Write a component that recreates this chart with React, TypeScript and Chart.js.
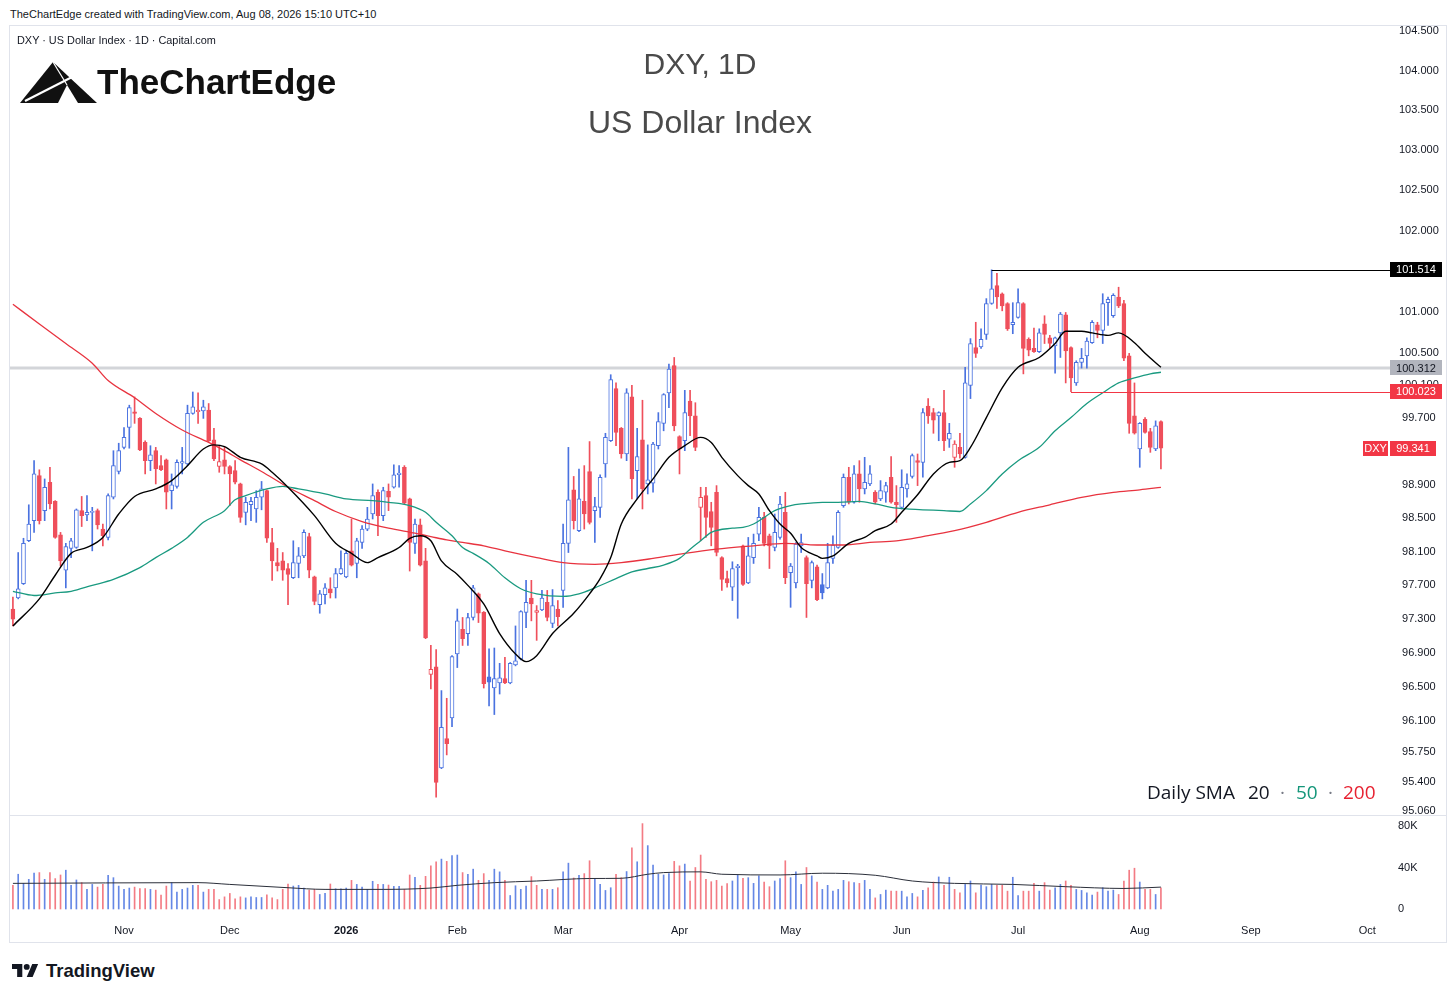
import React, { useEffect, useRef } from "react";
import { Chart, registerables } from "chart.js";

Chart.register(...registerables);

const FONT = "'Liberation Sans', Arial, Helvetica, sans-serif";
const TEXT = "#131722";
const UP = "#4a72e0";
const DOWN = "#ef4f5b";
const UP_VOL = "rgba(74,114,224,0.85)";
const DOWN_VOL = "rgba(239,79,91,0.75)";

// ---- daily candles (bar index 0 = 3 Oct 2025 ... 217 = 7 Aug 2026) ----
const OPEN = [
  97.42, 97.55, 97.72, 98.23, 98.47, 99.01, 98.59, 98.93, 98.70, 98.30,
  97.88, 98.14, 98.15, 98.59, 98.54, 98.57, 98.59, 98.37, 98.27, 98.75,
  99.06, 99.35, 99.59, 99.78, 99.70, 99.41, 99.19, 99.31, 99.13, 99.20,
  98.83, 98.88, 99.16, 99.15, 99.76, 99.78, 99.79, 99.80, 99.44, 99.12,
  99.20, 99.12, 99.07, 98.91, 98.57, 98.66, 98.61, 98.75, 98.83, 98.21,
  97.97, 97.99, 97.90, 97.79, 97.96, 98.05, 98.28, 97.80, 97.47, 97.59,
  97.66, 97.67, 97.84, 97.80, 98.11, 97.96, 98.21, 98.37, 98.55, 98.81,
  98.53, 98.82, 98.87, 99.02, 99.11, 98.73, 98.20, 98.42, 97.99, 96.65,
  96.74, 95.56, 95.90, 96.14, 96.89, 97.18, 97.13, 97.32, 97.60, 97.38,
  96.62, 96.49, 96.55, 96.60, 96.55, 96.76, 96.83, 97.38, 97.55, 97.38,
  97.41, 97.50, 97.25, 97.42, 97.64, 98.20, 98.84, 98.35, 98.70, 99.06,
  98.59, 98.63, 99.15, 99.43, 100.06, 99.58, 99.27, 99.96, 99.07, 99.44,
  98.91, 98.92, 99.37, 99.64, 100.01, 100.34, 99.48, 99.43, 99.91, 99.73,
  98.63, 98.77, 98.58, 98.81, 98.03, 97.78, 97.68, 97.91, 98.17, 97.73,
  98.03, 98.31, 98.51, 98.29, 98.15, 98.27, 98.57, 97.85, 97.73, 98.17,
  98.03, 97.76, 97.92, 97.71, 97.67, 98.02, 98.15, 98.65, 98.99, 98.69,
  99.03, 98.85, 98.91, 98.81, 98.73, 98.81, 98.99, 98.69, 98.63, 98.85,
  99.00, 99.19, 99.17, 99.85, 99.77, 99.73, 99.77, 99.45, 99.23, 99.35,
  99.23, 100.10, 100.56, 100.57, 100.72, 101.10, 101.32, 101.22, 101.10, 100.84,
  100.93, 101.10, 100.66, 100.55, 100.51, 100.85, 100.68, 100.58, 100.74, 100.96,
  100.56, 100.13, 100.38, 100.46, 100.62, 100.84, 100.77, 101.11, 100.95, 101.18,
  101.10, 100.46, 99.73, 99.33, 99.69, 99.54, 99.33, 99.66,
];
const HIGH = [
  97.56, 98.09, 98.26, 98.66, 99.19, 99.08, 98.97, 99.11, 98.71, 98.33,
  98.20, 98.26, 98.61, 98.76, 98.77, 98.63, 98.61, 98.43, 98.79, 99.31,
  99.40, 99.59, 99.86, 99.96, 99.71, 99.43, 99.37, 99.35, 99.25, 99.21,
  99.03, 99.20, 99.35, 99.86, 100.02, 100.01, 99.92, 99.88, 99.58, 99.37,
  99.35, 99.13, 99.19, 98.92, 98.75, 98.75, 98.83, 98.94, 98.84, 98.38,
  98.14, 98.09, 97.96, 98.23, 98.15, 98.36, 98.32, 97.81, 97.64, 97.72,
  97.79, 97.90, 98.11, 98.11, 98.49, 98.26, 98.41, 98.63, 98.91, 98.84,
  98.87, 98.91, 99.14, 99.13, 99.13, 98.74, 98.49, 98.49, 98.14, 96.99,
  96.94, 96.46, 96.37, 96.87, 97.42, 97.32, 97.37, 97.70, 97.61, 97.39,
  96.95, 96.96, 96.78, 96.85, 96.79, 97.22, 97.40, 97.76, 97.76, 97.46,
  97.64, 97.64, 97.65, 97.52, 98.43, 99.35, 99.00, 99.09, 99.13, 99.42,
  98.75, 99.02, 99.52, 100.23, 100.13, 99.59, 100.06, 100.10, 99.58, 99.92,
  99.38, 99.41, 99.77, 100.00, 100.36, 100.44, 99.49, 100.04, 100.04, 99.89,
  98.87, 98.87, 98.69, 98.89, 98.04, 97.87, 97.98, 97.95, 98.18, 98.27,
  98.31, 98.63, 98.57, 98.31, 98.55, 98.76, 98.81, 97.96, 98.21, 98.31,
  98.05, 97.99, 97.94, 97.84, 98.20, 98.29, 98.59, 99.03, 99.11, 99.13,
  99.19, 99.23, 99.13, 98.83, 98.95, 98.93, 99.24, 98.89, 99.08, 99.03,
  99.27, 99.27, 99.82, 99.94, 99.82, 99.78, 100.04, 99.64, 99.43, 99.52,
  100.32, 100.67, 100.87, 100.79, 101.16, 101.514, 101.47, 101.23, 101.11, 101.11,
  101.28, 101.11, 100.68, 100.80, 100.79, 100.95, 100.71, 100.69, 100.99, 100.99,
  100.57, 100.40, 100.55, 100.68, 100.89, 100.87, 101.22, 101.18, 101.22, 101.30,
  101.14, 100.49, 100.13, 99.65, 99.71, 99.58, 99.67, 99.67,
];
const LOW = [
  97.22, 97.54, 97.71, 98.22, 98.33, 98.43, 98.47, 98.61, 98.26, 97.93,
  97.67, 98.03, 98.14, 98.40, 98.47, 98.11, 98.37, 98.17, 98.24, 98.73,
  99.03, 99.33, 99.34, 99.64, 99.31, 99.03, 99.07, 98.91, 99.07, 98.61,
  98.61, 98.86, 99.03, 99.13, 99.75, 99.64, 99.70, 99.42, 99.19, 99.05,
  99.03, 98.65, 98.91, 98.45, 98.42, 98.47, 98.45, 98.60, 98.21, 97.76,
  97.87, 97.76, 97.47, 97.78, 97.79, 98.03, 97.79, 97.47, 97.37, 97.48,
  97.55, 97.55, 97.83, 97.79, 97.93, 97.79, 98.14, 98.35, 98.49, 98.29,
  98.47, 98.59, 98.86, 98.87, 98.67, 97.87, 98.08, 97.93, 97.07, 96.48,
  95.22, 95.55, 95.71, 96.04, 96.73, 96.99, 96.99, 97.29, 97.26, 96.49,
  96.28, 96.18, 96.42, 96.54, 96.54, 96.75, 96.82, 97.20, 97.28, 97.05,
  97.40, 97.28, 97.20, 97.22, 97.44, 98.09, 98.37, 98.34, 98.37, 98.43,
  98.21, 98.51, 98.99, 99.42, 99.37, 99.22, 99.19, 98.73, 98.73, 98.61,
  98.79, 98.81, 99.33, 99.55, 99.83, 99.55, 99.03, 99.31, 99.49, 99.31,
  98.23, 98.27, 98.17, 98.05, 97.64, 97.68, 97.52, 97.31, 97.70, 97.72,
  97.96, 98.23, 98.17, 97.90, 98.11, 98.25, 97.72, 97.44, 97.67, 98.09,
  97.32, 97.67, 97.52, 97.54, 97.66, 97.96, 98.14, 98.63, 98.67, 98.68,
  98.69, 98.79, 98.89, 98.67, 98.71, 98.69, 98.68, 98.45, 98.61, 98.75,
  98.98, 98.89, 98.99, 99.64, 99.52, 99.43, 99.31, 99.35, 99.11, 99.22,
  99.22, 99.94, 100.44, 100.55, 100.66, 101.09, 101.04, 101.01, 100.77, 100.73,
  100.92, 100.24, 100.46, 100.50, 100.50, 100.61, 100.56, 100.25, 100.44, 100.13,
  100.023, 100.10, 100.31, 100.31, 100.61, 100.68, 100.61, 100.83, 100.93, 101.05,
  100.40, 99.52, 99.51, 99.11, 99.52, 99.29, 99.31, 99.09,
];
const CLOSE = [
  97.30, 97.66, 98.20, 98.43, 99.03, 98.47, 98.87, 98.67, 98.27, 97.99,
  98.16, 98.23, 98.60, 98.53, 98.57, 98.58, 98.42, 98.29, 98.77, 99.13,
  99.31, 99.47, 99.83, 99.76, 99.32, 99.19, 99.26, 99.09, 99.08, 98.81,
  98.90, 99.17, 99.18, 99.76, 99.84, 99.80, 99.84, 99.43, 99.21, 99.18,
  99.12, 99.03, 98.93, 98.51, 98.69, 98.70, 98.75, 98.85, 98.26, 97.99,
  97.93, 97.88, 97.83, 97.97, 98.05, 98.33, 97.88, 97.51, 97.60, 97.67,
  97.61, 97.84, 97.90, 98.08, 97.94, 98.23, 98.37, 98.49, 98.77, 98.53,
  98.83, 98.75, 99.02, 99.04, 98.68, 98.21, 98.43, 97.94, 97.08, 96.71,
  95.39, 96.03, 95.84, 96.86, 97.28, 97.07, 97.32, 97.67, 97.37, 96.54,
  96.56, 96.60, 96.61, 96.55, 96.78, 96.81, 97.39, 97.50, 97.48, 97.40,
  97.55, 97.32, 97.46, 97.33, 98.20, 98.72, 98.47, 98.73, 98.55, 98.45,
  98.64, 98.99, 99.47, 100.17, 99.53, 99.27, 100.01, 98.97, 99.24, 98.85,
  98.96, 99.39, 99.66, 99.99, 100.30, 99.61, 99.33, 99.77, 99.73, 99.35,
  98.75, 98.51, 98.39, 98.09, 97.77, 97.73, 97.90, 97.93, 97.71, 98.05,
  98.20, 98.51, 98.20, 98.17, 98.33, 98.67, 97.79, 97.93, 98.19, 98.21,
  97.72, 97.97, 97.53, 97.61, 97.97, 98.18, 98.57, 98.99, 98.69, 99.03,
  98.85, 98.93, 99.03, 98.69, 98.83, 98.89, 98.69, 98.66, 98.87, 98.91,
  99.25, 99.17, 99.77, 99.73, 99.68, 99.77, 99.43, 99.52, 99.39, 99.27,
  100.13, 100.61, 100.49, 100.66, 101.10, 101.28, 101.18, 101.07, 100.79, 100.87,
  101.11, 100.55, 100.53, 100.51, 100.74, 100.72, 100.61, 100.68, 100.97, 100.52,
  100.19, 100.38, 100.43, 100.64, 100.87, 100.77, 101.10, 101.15, 101.20, 101.07,
  100.43, 99.64, 99.52, 99.64, 99.53, 99.35, 99.61, 99.341,
];
// volume in thousands
const VOLUME = [
  22.8, 33.5, 24.7, 28.6, 34.5, 35.1, 28.6, 35.1, 29.3, 32.8,
  37.4, 22.8, 28.0, 25.4, 18.9, 23.7, 21.1, 23.7, 32.5, 30.2,
  22.1, 18.9, 20.2, 21.1, 19.8, 19.8, 18.9, 18.2, 13.3, 22.1,
  25.4, 16.3, 18.9, 20.2, 22.8, 22.8, 16.3, 18.9, 18.9, 9.1,
  11.7, 15.0, 9.8, 11.7, 10.7, 11.7, 11.1, 11.1, 13.7, 10.7,
  9.1, 18.9, 24.1, 22.1, 22.8, 20.2, 18.2, 18.9, 14.0, 15.0,
  24.1, 19.5, 19.5, 20.2, 27.6, 23.7, 21.1, 18.9, 26.7, 23.7,
  23.7, 23.1, 21.8, 21.8, 18.9, 32.8, 30.6, 22.8, 31.5, 41.6,
  45.5, 48.1, 45.9, 51.4, 52.0, 35.1, 33.5, 38.4, 27.6, 34.1,
  27.6, 38.4, 35.8, 27.6, 13.0, 22.4, 18.9, 22.1, 31.2, 22.8,
  18.9, 18.9, 18.9, 20.5, 35.8, 44.2, 29.9, 32.5, 34.1, 46.5,
  29.3, 23.7, 17.9, 20.5, 33.5, 30.2, 36.1, 58.9, 45.5, 82.3,
  61.1, 42.3, 33.5, 32.8, 34.1, 45.9, 41.6, 43.3, 27.0, 40.0,
  52.0, 28.6, 26.3, 27.6, 22.1, 24.4, 27.0, 32.8, 29.6, 30.2,
  24.7, 31.9, 26.0, 21.5, 27.0, 29.3, 46.5, 30.2, 35.8, 23.7,
  40.0, 31.9, 26.0, 18.9, 22.8, 17.2, 18.9, 27.6, 26.3, 25.4,
  24.7, 27.6, 18.9, 10.7, 14.0, 18.2, 17.2, 17.2, 17.2, 11.7,
  15.0, 11.7, 17.9, 20.5, 26.0, 30.9, 22.8, 30.6, 18.9, 15.6,
  23.7, 27.0, 15.6, 23.1, 21.5, 23.7, 22.8, 22.8, 17.2, 30.6,
  13.0, 17.2, 17.2, 24.7, 17.2, 25.4, 18.2, 20.5, 23.7, 27.0,
  22.8, 18.9, 17.9, 15.6, 13.3, 16.3, 20.5, 17.2, 18.2, 14.0,
  27.0, 37.4, 39.3, 26.0, 18.9, 18.9, 14.0, 20.5,
];

// ---- moving averages at these bar indices ----
const SMA20_AT = [0, 5, 8, 11, 14, 17, 20, 23, 27, 30, 33, 36, 38, 40, 43, 47, 49, 52, 57, 61, 64, 67, 69, 73, 75, 77, 79, 81, 84, 86, 89, 92, 95, 97, 99, 102, 106, 109, 111, 113, 115, 118, 121, 124, 127, 130, 132, 134, 137, 139, 141, 143, 145, 147, 149, 152, 153, 155, 158, 161, 163, 166, 168, 171, 174, 177, 179, 181, 184, 187, 190, 194, 197, 199, 202, 204, 207, 209, 212, 214, 217];
const SMA20 = [97.22, 97.54, 97.82, 98.08, 98.15, 98.27, 98.55, 98.76, 98.85, 98.95, 99.13, 99.33, 99.38, 99.36, 99.23, 99.15, 99.05, 98.87, 98.53, 98.20, 98.08, 97.97, 98.03, 98.15, 98.26, 98.29, 98.23, 97.99, 97.83, 97.70, 97.48, 97.13, 96.89, 96.80, 96.87, 97.13, 97.37, 97.60, 97.78, 98.03, 98.43, 98.73, 98.97, 99.23, 99.37, 99.47, 99.41, 99.23, 99.01, 98.89, 98.79, 98.59, 98.43, 98.32, 98.15, 98.05, 98.02, 98.05, 98.20, 98.27, 98.35, 98.43, 98.57, 98.78, 99.03, 99.17, 99.19, 99.35, 99.71, 100.07, 100.32, 100.44, 100.61, 100.76, 100.76, 100.74, 100.71, 100.74, 100.62, 100.49, 100.32];
const SMA50_AT = [0, 4, 8, 11, 15, 19, 24, 27, 30, 33, 36, 40, 42, 44, 48, 51, 54, 59, 63, 68, 71, 75, 78, 80, 83, 85, 87, 90, 93, 96, 99, 104, 107, 110, 114, 117, 120, 123, 126, 128, 130, 132, 136, 138, 140, 142, 144, 147, 149, 153, 156, 160, 163, 166, 169, 172, 176, 179, 181, 184, 187, 190, 194, 197, 200, 203, 206, 209, 212, 215, 217];
const SMA50 = [97.63, 97.58, 97.61, 97.63, 97.70, 97.77, 97.91, 98.03, 98.14, 98.27, 98.45, 98.59, 98.72, 98.77, 98.85, 98.88, 98.85, 98.79, 98.73, 98.71, 98.69, 98.65, 98.57, 98.45, 98.29, 98.15, 98.08, 97.96, 97.79, 97.66, 97.60, 97.57, 97.60, 97.67, 97.78, 97.86, 97.90, 97.94, 98.02, 98.13, 98.23, 98.33, 98.38, 98.39, 98.43, 98.51, 98.59, 98.65, 98.67, 98.69, 98.69, 98.70, 98.67, 98.63, 98.61, 98.60, 98.59, 98.58, 98.67, 98.83, 99.03, 99.19, 99.35, 99.55, 99.71, 99.88, 100.01, 100.13, 100.19, 100.24, 100.26];
const SMA200_AT = [0, 5, 10, 15, 18, 23, 27, 32, 37, 40, 43, 47, 52, 57, 61, 66, 71, 76, 79, 82, 85, 89, 93, 99, 104, 110, 115, 121, 127, 133, 140, 146, 152, 157, 162, 167, 172, 178, 184, 190, 196, 202, 208, 213, 217];
const SMA200 = [101.09, 100.85, 100.61, 100.37, 100.16, 99.95, 99.76, 99.56, 99.41, 99.31, 99.20, 99.06, 98.87, 98.71, 98.58, 98.46, 98.38, 98.32, 98.28, 98.24, 98.21, 98.17, 98.11, 98.03, 97.97, 97.95, 97.97, 98.02, 98.08, 98.13, 98.17, 98.20, 98.18, 98.18, 98.21, 98.23, 98.28, 98.35, 98.45, 98.57, 98.66, 98.75, 98.81, 98.84, 98.87];
const VOL_MA_AT = [0, 35, 41, 52, 59, 70, 79, 84, 91, 99, 109, 115, 120, 123, 130, 134, 145, 153, 163, 170, 178, 189, 199, 210, 217];
const VOL_MA = [24.7, 25.4, 23.7, 20.5, 18.9, 18.9, 20.2, 22.8, 25.4, 27.0, 29.4, 29.6, 33.5, 35.1, 35.8, 33.5, 32.8, 34.5, 32.5, 27.0, 24.7, 23.7, 21.5, 19.8, 21.1];

// ---- axes ----
const MONTH_IDX = [21, 41, 63, 84, 104, 126, 147, 168, 190, 213, 234, 256];
const MONTH_LABELS = ["Nov", "Dec", "2026", "Feb", "Mar", "Apr", "May", "Jun", "Jul", "Aug", "Sep", "Oct"];
const PRICE_TICKS = [95.06, 95.4, 95.75, 96.1, 96.5, 96.9, 97.3, 97.7, 98.1, 98.5, 98.9, 99.3, 99.7, 100.1, 100.5, 101, 101.5, 102, 102.5, 103, 103.5, 104, 104.5];
const VOL_TICKS = [0, 40, 80];

// ---- levels / labels ----
const SYMBOL = "DXY";
const HIGH_LEVEL = 101.514;
const HIGH_LEVEL_IDX = 185;
const MID_LEVEL = 100.312;
const LOW_LEVEL = 100.023;
const LOW_LEVEL_IDX = 200;
const LAST_PRICE = 99.341;

// view ranges
const X_MIN = -0.55;
const X_MAX = 260.3;
const PRICE_MIN = 93.857;
const PRICE_MAX = 104.563;
const VOL_MIN = -6.75;
const VOL_MAX = 851.1;
const VOL_PANE_TOP = 91;

export default function App() {
  const ref = useRef<HTMLCanvasElement | null>(null);

  useEffect(() => {
    const canvas = ref.current;
    if (!canvas) return;
    Chart.defaults.font.family = FONT;

    const up = CLOSE.map((c, i) => (i === 0 ? c >= OPEN[0] : c >= CLOSE[i - 1]));
    const col = up.map((u) => (u ? UP : DOWN));
    const hollow = CLOSE.map((c, i) => c > OPEN[i]);

    const decor = {
      id: "decor",
      beforeDatasetsDraw(chart: any) {
        const { ctx, chartArea: a, scales } = chart;
        const y = scales.y.getPixelForValue(MID_LEVEL);
        ctx.save();
        ctx.strokeStyle = "rgba(200,202,208,0.8)";
        ctx.lineWidth = 3;
        ctx.beginPath();
        ctx.moveTo(a.left, y);
        ctx.lineTo(a.right, y);
        ctx.stroke();
        ctx.restore();
      },
      afterDatasetsDraw(chart: any) {
        const { ctx, chartArea: a, scales } = chart;
        const seg = (value: number, fromIdx: number, color: string) => {
          const y = Math.round(scales.y.getPixelForValue(value)) + 0.5;
          const x0 = scales.x.getPixelForValue(fromIdx);
          ctx.strokeStyle = color;
          ctx.lineWidth = 1;
          ctx.beginPath();
          ctx.moveTo(x0, y);
          ctx.lineTo(a.right, y);
          ctx.stroke();
        };
        ctx.save();
        seg(HIGH_LEVEL, HIGH_LEVEL_IDX, "#000000");
        seg(LOW_LEVEL, LOW_LEVEL_IDX, "#f23645");
        ctx.restore();
      },
      afterDraw(chart: any) {
        const { ctx, chartArea: a, scales, width } = chart;
        const sepY = Math.round(scales.yv.getPixelForValue(VOL_PANE_TOP)) + 0.5;
        ctx.save();
        ctx.fillStyle = "#ffffff";
        ctx.fillRect(a.right, sepY, width - a.right, 5);
        ctx.strokeStyle = "#e0e3eb";
        ctx.lineWidth = 1;
        ctx.beginPath();
        ctx.moveTo(0, sepY);
        ctx.lineTo(width, sepY);
        ctx.stroke();

        ctx.font = `11px ${FONT}`;
        ctx.fillStyle = TEXT;
        ctx.textAlign = "left";
        ctx.textBaseline = "middle";
        VOL_TICKS.forEach((v) => {
          ctx.fillText(v === 0 ? "0" : `${v}K`, a.right + 8, scales.yv.getPixelForValue(v));
        });

        const box = (value: number, bg: string, fg: string, w: number) => {
          const y = scales.y.getPixelForValue(value);
          ctx.fillStyle = bg;
          ctx.fillRect(a.right, Math.round(y - 7.5), w, 15);
          ctx.fillStyle = fg;
          ctx.textAlign = "center";
          ctx.fillText(value.toFixed(3), a.right + w / 2, y + 0.5);
        };
        box(HIGH_LEVEL, "#000000", "#ffffff", 52);
        box(MID_LEVEL, "#b2b5be", TEXT, 52);
        box(LOW_LEVEL, "#f23645", "#ffffff", 52);
        box(LAST_PRICE, "#f23645", "#ffffff", 46);
        const yl = scales.y.getPixelForValue(LAST_PRICE);
        ctx.fillStyle = "#f23645";
        ctx.fillRect(a.right - 27, Math.round(yl - 7.5), 25, 15);
        ctx.fillStyle = "#ffffff";
        ctx.textAlign = "center";
        ctx.fillText(SYMBOL, a.right - 14.5, yl + 0.5);
        ctx.restore();
      },
    };

    const line = (xs: number[], ys: number[]) => xs.map((x, k) => ({ x, y: ys[k] }));

    const chart = new Chart(canvas, {
      type: "bar",
      data: {
        datasets: [
          {
            type: "line",
            label: "SMA 20",
            data: line(SMA20_AT, SMA20),
            yAxisID: "y",
            borderColor: "#000000",
            borderWidth: 1.4,
            pointRadius: 0,
            cubicInterpolationMode: "monotone",
            order: 0,
          },
          {
            type: "line",
            label: "SMA 50",
            data: line(SMA50_AT, SMA50),
            yAxisID: "y",
            borderColor: "#1a9a80",
            borderWidth: 1.3,
            pointRadius: 0,
            cubicInterpolationMode: "monotone",
            order: 0,
          },
          {
            type: "line",
            label: "SMA 200",
            data: line(SMA200_AT, SMA200),
            yAxisID: "y",
            borderColor: "#e8333f",
            borderWidth: 1.3,
            pointRadius: 0,
            cubicInterpolationMode: "monotone",
            order: 0,
          },
          {
            type: "bar",
            label: "body",
            data: OPEN.map((o, i) => ({ x: i, y: [o, CLOSE[i]] })),
            yAxisID: "y",
            backgroundColor: hollow.map((h, i) => (h ? "#ffffff" : col[i])),
            borderColor: col,
            borderWidth: 1,
            borderSkipped: false,
            barThickness: 4,
            minBarLength: 1,
            grouped: false,
            order: 2,
          },
          {
            type: "bar",
            label: "wick",
            data: LOW.map((l, i) => ({ x: i, y: [l, HIGH[i]] })),
            yAxisID: "y",
            backgroundColor: col,
            barThickness: 1,
            grouped: false,
            order: 3,
          },
          {
            type: "bar",
            label: "Volume",
            data: VOLUME.map((v, i) => ({ x: i, y: v })),
            yAxisID: "yv",
            backgroundColor: up.map((u) => (u ? UP_VOL : DOWN_VOL)),
            barThickness: 1,
            grouped: false,
            order: 4,
          },
          {
            type: "line",
            label: "Volume MA",
            data: line(VOL_MA_AT, VOL_MA),
            yAxisID: "yv",
            borderColor: "#2a2e39",
            borderWidth: 1,
            pointRadius: 0,
            cubicInterpolationMode: "monotone",
            order: 1,
          },
        ] as any,
      },
      options: {
        responsive: false,
        animation: false,
        layout: { padding: 0 },
        plugins: { legend: { display: false }, tooltip: { enabled: false } },
        scales: {
          x: {
            type: "linear",
            min: X_MIN,
            max: X_MAX,
            offset: false,
            grid: { display: false },
            border: { display: false },
            afterBuildTicks: (s: any) => {
              s.ticks = MONTH_IDX.map((v) => ({ value: v }));
            },
            afterFit: (s: any) => {
              s.height = 26;
              s.paddingLeft = 0;
              s.paddingRight = 0;
            },
            ticks: {
              autoSkip: false,
              maxRotation: 0,
              padding: 0,
              color: TEXT,
              font: (c: any) => ({
                family: FONT,
                size: 11,
                weight: c.tick && c.tick.value === MONTH_IDX[2] ? "bold" : "normal",
              }),
              callback: (v: any) => {
                const k = MONTH_IDX.indexOf(Number(v));
                return k >= 0 ? MONTH_LABELS[k] : "";
              },
            },
          },
          y: {
            type: "logarithmic",
            position: "right",
            min: PRICE_MIN,
            max: PRICE_MAX,
            bounds: "data",
            grid: { display: false },
            border: { display: false },
            afterBuildTicks: (s: any) => {
              s.ticks = PRICE_TICKS.map((v) => ({ value: v }));
            },
            afterFit: (s: any) => {
              s.width = 56;
              s.paddingTop = 0;
              s.paddingBottom = 0;
            },
            ticks: {
              autoSkip: false,
              padding: 1,
              crossAlign: "center",
              color: TEXT,
              font: { family: FONT, size: 11 },
              callback: (v: any) => Number(v).toFixed(3),
            },
          },
          yv: {
            type: "linear",
            display: false,
            min: VOL_MIN,
            max: VOL_MAX,
          },
        },
      } as any,
      plugins: [decor],
    });

    return () => chart.destroy();
  }, []);

  const abs: React.CSSProperties = { position: "absolute", whiteSpace: "nowrap", pointerEvents: "none" };
  const legend: React.CSSProperties = { ...abs, top: 782, fontSize: 19, lineHeight: "20px", fontFamily: "'Open Sans', sans-serif" };

  return (
    <div style={{ position: "relative", width: 1456, height: 999, background: "#ffffff", overflow: "hidden", fontFamily: FONT }}>
      <style>{"html,body{margin:0;padding:0;background:#fff}"}</style>
      <div style={{ ...abs, left: 10, top: 7, fontSize: 11, lineHeight: "14px", color: TEXT }}>
        TheChartEdge created with TradingView.com, Aug 08, 2026 15:10 UTC+10
      </div>
      <div style={{ position: "absolute", left: 9, top: 25, width: 1438, height: 918, border: "1px solid #e0e3eb", boxSizing: "border-box" }}>
        <canvas ref={ref} width={1436} height={916} style={{ display: "block", width: 1436, height: 916 }} />
      </div>
      <div style={{ ...abs, left: 17, top: 33, fontSize: 10.9, lineHeight: "14px", color: TEXT }}>
        DXY · US Dollar Index · 1D · Capital.com
      </div>
      <svg style={{ position: "absolute", left: 20, top: 62 }} width={77} height={41} viewBox="0 0 77 41">
        <polygon points="0,41 33,0 77,41" fill="#111111" />
        <line x1="5" y1="39" x2="60" y2="11" stroke="#ffffff" strokeWidth="2.2" />
        <polygon points="38,41 47,23 58,41" fill="#ffffff" />
        <line x1="33" y1="0" x2="47" y2="23" stroke="#ffffff" strokeWidth="1.2" />
      </svg>
      <div style={{ ...abs, left: 97, top: 64, fontSize: 35, fontWeight: 700, lineHeight: "35px", color: "#111111" }}>
        TheChartEdge
      </div>
      <div style={{ ...abs, left: 500, width: 400, top: 49, textAlign: "center", fontSize: 30, lineHeight: "30px", color: "#4a4a4a" }}>
        DXY, 1D
      </div>
      <div style={{ ...abs, left: 500, width: 400, top: 106, textAlign: "center", fontSize: 32, lineHeight: "32px", color: "#4a4a4a" }}>
        US Dollar Index
      </div>
      <div style={{ ...legend, left: 1147, color: TEXT }}>Daily SMA</div>
      <div style={{ ...legend, left: 1248, color: TEXT }}>20</div>
      <div style={{ ...legend, left: 1280, color: "#787b86" }}>·</div>
      <div style={{ ...legend, left: 1296, color: "#14967a" }}>50</div>
      <div style={{ ...legend, left: 1328, color: "#787b86" }}>·</div>
      <div style={{ ...legend, left: 1343, color: "#e72231" }}>200</div>
      <svg style={{ position: "absolute", left: 12, top: 964 }} width={26.5} height={13} viewBox="0 4 36 18" preserveAspectRatio="none">
        <path d="M14 22H7V11H0V4h14v18zM28 22h-8l7.5-18h8L28 22z" fill="#131722" />
        <circle cx="20" cy="8" r="4" fill="#131722" />
      </svg>
      <div style={{ ...abs, left: 46, top: 961, fontSize: 18.5, fontWeight: 700, lineHeight: "20px", color: TEXT }}>
        TradingView
      </div>
    </div>
  );
}
